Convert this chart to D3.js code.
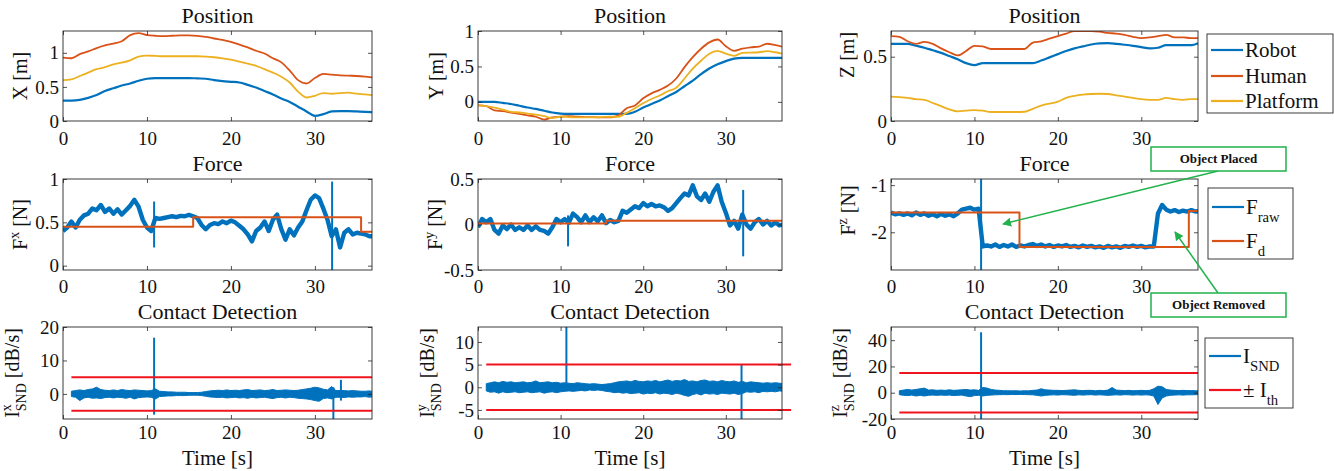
<!DOCTYPE html>
<html>
<head>
<meta charset="utf-8">
<script src="https://cdn.jsdelivr.net/npm/d3@7"></script>
<style>
  body { margin: 0; background: #fff; }
  svg text { font-family: "Liberation Serif", "Times New Roman", serif; }
</style>
</head>
<body>
<div id="chart"></div>
<script>
const width = 1334;
const height = 471;
const FONT = "Liberation Serif, Times New Roman, serif";

// ---------- data ----------
const xTicks = [0, 10, 20, 30];
const xTickLabels = ["0", "10", "20", "30"];
const tMax = 36.8;

// position signals, sampled every second
const posTime = [0,1,2,3,4,5,6,7,8,9,10,11,12,13,14,15,16,17,18,19,20,21,22,23,24,25,26,27,28,29,30,31,32,33,34,35,36,36.8];

const robotX = [0.30,0.30,0.31,0.34,0.38,0.44,0.48,0.52,0.55,0.59,0.62,0.63,0.63,0.63,0.63,0.63,0.625,0.62,0.60,0.585,0.575,0.565,0.53,0.49,0.44,0.39,0.33,0.28,0.21,0.14,0.075,0.10,0.14,0.145,0.145,0.14,0.135,0.13];
const humanX = [0.93,0.92,0.98,1.02,1.07,1.11,1.135,1.17,1.26,1.29,1.26,1.25,1.245,1.25,1.255,1.255,1.25,1.235,1.21,1.19,1.16,1.12,1.08,1.03,0.99,0.92,0.86,0.74,0.60,0.55,0.63,0.69,0.68,0.67,0.665,0.66,0.65,0.64];
const platformX = [0.60,0.61,0.66,0.71,0.76,0.79,0.83,0.855,0.89,0.945,0.96,0.955,0.95,0.95,0.95,0.95,0.95,0.945,0.935,0.92,0.90,0.87,0.84,0.81,0.76,0.71,0.65,0.565,0.43,0.345,0.37,0.41,0.40,0.41,0.415,0.40,0.39,0.38];

const robotY = [0,0,0,-0.015,-0.03,-0.055,-0.08,-0.10,-0.125,-0.15,-0.165,-0.17,-0.17,-0.17,-0.17,-0.17,-0.17,-0.17,-0.17,-0.14,-0.08,-0.03,0.02,0.08,0.14,0.22,0.30,0.39,0.47,0.53,0.575,0.61,0.62,0.62,0.62,0.62,0.62,0.62];
const humanY = [-0.05,-0.06,-0.12,-0.13,-0.15,-0.17,-0.19,-0.21,-0.25,-0.22,-0.21,-0.20,-0.21,-0.215,-0.215,-0.22,-0.22,-0.19,-0.09,-0.05,0.05,0.12,0.17,0.23,0.33,0.49,0.63,0.75,0.84,0.88,0.785,0.72,0.75,0.77,0.78,0.82,0.80,0.78];
const platformY = [-0.05,-0.06,-0.08,-0.11,-0.14,-0.15,-0.165,-0.18,-0.20,-0.23,-0.21,-0.215,-0.22,-0.22,-0.22,-0.215,-0.21,-0.21,-0.155,-0.09,-0.02,0.04,0.09,0.15,0.20,0.33,0.47,0.58,0.68,0.72,0.68,0.65,0.69,0.695,0.70,0.715,0.70,0.68];

const robotZ = [0.60,0.60,0.60,0.585,0.57,0.55,0.53,0.505,0.48,0.45,0.435,0.45,0.45,0.45,0.45,0.45,0.45,0.45,0.47,0.495,0.52,0.545,0.565,0.58,0.595,0.603,0.605,0.60,0.593,0.585,0.575,0.565,0.57,0.59,0.59,0.59,0.59,0.605];
const humanZ = [0.66,0.655,0.62,0.60,0.615,0.60,0.565,0.535,0.51,0.545,0.585,0.58,0.56,0.56,0.56,0.56,0.56,0.61,0.62,0.64,0.66,0.68,0.70,0.70,0.70,0.695,0.685,0.68,0.67,0.655,0.645,0.65,0.66,0.67,0.65,0.65,0.645,0.645];
const platformZ = [0.19,0.185,0.18,0.17,0.165,0.14,0.115,0.09,0.075,0.08,0.085,0.08,0.07,0.07,0.07,0.07,0.072,0.095,0.12,0.135,0.15,0.18,0.195,0.205,0.21,0.212,0.21,0.20,0.19,0.18,0.17,0.165,0.165,0.18,0.17,0.165,0.17,0.17];

// force signals, sampled every 0.5 s from 0 to 37
const forceTime = d3.range(0, 37.01, 0.5);
const forceXRaw = [0.40,0.44,0.51,0.44,0.53,0.58,0.60,0.66,0.64,0.70,0.62,0.66,0.60,0.65,0.59,0.64,0.69,0.76,0.68,0.53,0.44,0.40,0.55,0.54,0.55,0.56,0.57,0.56,0.575,0.57,0.585,0.57,0.55,0.47,0.42,0.47,0.49,0.48,0.51,0.49,0.52,0.50,0.46,0.42,0.36,0.28,0.40,0.44,0.51,0.40,0.53,0.59,0.42,0.30,0.42,0.35,0.44,0.51,0.64,0.76,0.81,0.78,0.66,0.53,0.34,0.42,0.21,0.38,0.42,0.36,0.38,0.37,0.36,0.34,0.34];
const forceYRaw = [-0.03,0.06,0.025,0.06,-0.06,-0.10,-0.01,-0.05,0.0,-0.06,-0.03,-0.06,-0.01,-0.06,-0.02,-0.06,-0.07,-0.10,-0.03,0.06,0.025,0.06,0.02,0.12,0.08,0.025,0.10,0.025,0.08,0.035,0.10,0.015,0.05,0.025,0.04,0.15,0.13,0.165,0.20,0.18,0.235,0.20,0.225,0.20,0.21,0.19,0.15,0.18,0.235,0.29,0.34,0.32,0.43,0.31,0.27,0.34,0.25,0.36,0.43,0.25,0.13,-0.01,0.04,-0.045,0.11,0.0,-0.045,0.025,0.06,0.0,0.04,-0.01,0.025,-0.01,0.0];
const forceZRaw = [-1.58,-1.62,-1.60,-1.63,-1.60,-1.64,-1.58,-1.63,-1.60,-1.65,-1.62,-1.66,-1.61,-1.65,-1.62,-1.66,-1.60,-1.52,-1.50,-1.48,-1.52,-1.50,-2.30,-2.28,-2.30,-2.26,-2.31,-2.27,-2.30,-2.26,-2.31,-2.28,-2.30,-2.27,-2.25,-2.29,-2.26,-2.30,-2.27,-2.31,-2.28,-2.30,-2.27,-2.31,-2.29,-2.32,-2.28,-2.31,-2.29,-2.32,-2.30,-2.33,-2.29,-2.32,-2.30,-2.33,-2.29,-2.31,-2.28,-2.31,-2.29,-2.32,-2.30,-2.30,-1.60,-1.42,-1.52,-1.56,-1.53,-1.57,-1.54,-1.56,-1.53,-1.56,-1.55];
// spikes: [time, low, high]
const forceXSpikes = [[10.85, 0.21, 0.74], [32.05, -0.05, 0.97]];
const forceYSpikes = [[10.9, -0.24, 0.10], [32.1, -0.35, 0.38]];
const forceZSpikes = [[10.8, -2.85, -0.85]];
// desired force (step signal): change times and values
const fdXTime = [0, 15.5, 35.5, 36.8];
const fdXValue = [0.45, 0.56, 0.39, 0.39];
const fdYTime = [0, 15.5, 36.8];
const fdYValue = [0.01, 0.04, 0.04];
const fdZTime = [0, 15.4, 35.7, 36.8];
const fdZValue = [-1.58, -2.31, -1.55, -1.55];

// sound intensity noise band (upper / lower edge), every 0.5 s from 1 to 37
const soundTime = d3.range(1, 37.01, 0.5);
const soundXHi = [0.8,1.0,1.2,1.0,1.3,1.5,2.0,1.3,1.1,1.0, 1.2,1.0,1.3,1.1,1.0,1.2,1.1,1.0,0.9,1.0, 1.5,0.8,0.7,0.6,0.6,0.5,0.5,0.5,0.4,0.4, 0.4,0.5,0.7,0.9,1.0,1.1,1.0,1.2,1.0,1.1, 1.0,1.2,1.3,1.0,1.1,1.2,1.0,1.1,1.3,1.0, 1.1,1.2,1.1,1.0,1.1,1.3,1.5,1.7,2.0,1.8, 1.4,1.2,2.2,1.0,1.0,1.0,0.9,1.0,0.9,0.8, 0.8,0.9,0.7];
const soundXLo = [-0.8,-1.0,-2.0,-1.2,-1.0,-1.3,-1.2,-1.4,-1.1,-1.0, -1.2,-1.0,-1.1,-1.3,-1.0,-1.5,-1.1,-1.0,-0.9,-1.0, -1.5,-0.8,-0.7,-0.6,-0.6,-0.5,-0.5,-0.5,-0.4,-0.4, -0.4,-0.5,-0.7,-0.9,-1.0,-1.1,-1.0,-1.2,-1.1,-1.0, -1.2,-1.1,-1.3,-1.0,-1.2,-1.1,-1.0,-1.2,-1.4,-1.1, -1.0,-1.2,-1.0,-1.1,-1.3,-1.4,-1.5,-1.7,-2.0,-2.2, -1.4,-1.2,-1.5,-1.0,-1.0,-1.1,-0.9,-1.0,-0.9,-0.9, -0.8,-1.0,-0.8];
const soundYHi = [0.8,1.0,1.2,1.0,1.3,1.1,1.2,1.0,1.1,1.2, 1.0,1.1,1.4,1.0,1.1,1.2,1.0,1.1,0.9,1.0, 0.9,0.8,1.0,0.9,0.8,0.7,0.8,0.7,0.6,0.7, 0.8,1.0,1.2,1.3,1.4,1.2,1.5,1.3,1.2,1.4, 1.3,1.5,1.2,1.4,1.6,1.3,1.5,1.4,1.7,1.3, 1.4,1.2,1.5,1.6,1.3,1.4,1.2,1.5,1.3,1.2, 1.4,1.1,1.3,1.0,1.2,1.1,1.0,0.9,1.0,0.9, 1.0,0.9,0.8];
const soundYLo = [-0.8,-1.1,-1.0,-1.3,-1.0,-1.2,-1.1,-1.0,-1.2,-1.1, -1.0,-1.2,-1.1,-1.0,-1.3,-1.1,-1.0,-1.2,-1.0,-0.9, -0.8,-0.9,-0.8,-0.7,-0.8,-0.6,-0.7,-0.6,-0.7,-0.9, -1.0,-1.2,-1.1,-1.3,-1.2,-1.4,-1.3,-1.2,-1.5,-1.3, -1.4,-1.2,-1.5,-1.3,-1.4,-1.6,-1.3,-1.5,-1.8,-2.0, -1.6,-1.4,-1.7,-1.3,-1.5,-1.4,-1.6,-1.3,-1.4,-1.5, -1.3,-1.6,-1.4,-1.0,-1.1,-1.0,-1.2,-0.9,-1.0,-0.9, -1.0,-0.8,-0.9];
const soundZHi = [1.5,2.0,2.5,2.0,2.5,3.0,3.5,2.0,2.2,1.8, 2.0,1.8,2.2,1.8,2.0,2.2,2.5,2.0,2.2,1.8, 4.0,3.5,2.5,2.0,1.8,1.5,1.5,1.4,1.5,1.3, 1.5,1.4,1.8,2.0,3.0,2.2,2.0,1.8,1.8,1.6, 1.8,2.0,2.2,1.8,1.6,1.8,1.8,1.5,1.8,1.6, 2.0,4.0,2.0,1.8,1.6,1.8,1.5,1.6,1.8,1.6, 1.8,3.0,5.0,4.5,2.5,2.0,1.8,1.6,1.8,1.6, 1.6,1.5,1.5];
const soundZLo = [-1.5,-2.0,-2.2,-1.8,-2.5,-2.0,-2.5,-2.0,-1.8,-2.0, -1.8,-2.0,-1.8,-2.2,-2.0,-1.8,-2.5,-3.0,-2.2,-2.0, -2.5,-2.0,-1.8,-1.6,-1.5,-1.4,-1.5,-1.3,-1.4,-1.3, -1.4,-1.5,-1.6,-2.0,-2.5,-2.0,-1.8,-1.6,-1.8,-1.5, -1.6,-1.8,-2.0,-1.6,-1.8,-1.6,-1.5,-1.8,-1.6,-1.8, -2.0,-1.8,-1.6,-1.8,-1.5,-1.6,-1.8,-1.6,-1.8,-1.6, -1.8,-2.5,-9.0,-4.0,-2.5,-2.0,-1.8,-1.6,-1.8,-1.6, -1.6,-1.5,-1.5];
const soundXSpikes = [[10.85, -6.2, 16.8], [32.2, -8.0, 2.0], [33.1, -2.0, 4.2]];
const soundYSpikes = [[10.7, 0, 13.3], [31.9, -7.0, 5.0]];
const soundZSpikes = [[10.8, -20, 46]];
// thresholds
const thX = 5, thY = 5, thZ = 15;
const thStart = 1;

const seriesNames = ["Robot", "Human", "Platform"];
const colors = { blue: "#0072BD", orange: "#D95319", yellow: "#EDB120", red: "#F0141E", green: "#21B24C", axis: "#262626", text: "#111" };

// ---------- layout ----------
const cols = [{ l: 63, r: 372 }, { l: 478, r: 782 }, { l: 891, r: 1198 }];
const rows = [{ t: 31, b: 121, pad: 11 }, { t: 179, b: 270, pad: 10 }, { t: 327, b: 419, pad: 7 }];

const svg = d3.select("#chart").append("svg")
  .attr("width", width)
  .attr("height", height)
  .style("background", "#fff");

const defs = svg.append("defs");
defs.append("marker")
  .attr("id", "arrow")
  .attr("viewBox", "0 0 10 10")
  .attr("refX", 9).attr("refY", 5)
  .attr("markerWidth", 9).attr("markerHeight", 9)
  .attr("markerUnits", "userSpaceOnUse")
  .attr("orient", "auto")
  .append("path")
  .attr("d", "M0,0 L10,5 L0,10 z")
  .attr("fill", colors.green);

let clipId = 0;

// rich text: parts like ["F","n"], ["x","sup"], ["SND","sub"] (sub is stacked under a preceding sup)
function richText(parent, parts, size) {
  const g = parent.append("g");
  let x = 0;
  let supStart = null;
  parts.forEach(([txt, kind]) => {
    const el = g.append("text")
      .attr("font-family", FONT)
      .attr("fill", colors.text)
      .attr("font-size", kind === "n" ? size : size * 0.7)
      .text(txt);
    if (kind === "n") {
      el.attr("x", x).attr("y", 0);
      x += el.node().getComputedTextLength();
      supStart = null;
    } else if (kind === "sup") {
      el.attr("x", x).attr("y", -size * 0.4);
      supStart = x;
      x += el.node().getComputedTextLength();
    } else {
      const sx = supStart !== null ? supStart : x;
      el.attr("x", sx).attr("y", size * 0.36);
      x = Math.max(x, sx + el.node().getComputedTextLength());
      supStart = null;
    }
  });
  return { g, w: x };
}

function makePanel(p) {
  const { l, r } = cols[p.col];
  const { t, b, pad } = rows[p.row];
  const x = d3.scaleLinear().domain([0, tMax]).range([l, r]);
  const y = d3.scaleLinear().domain(p.yDomain).range([b, t]);
  const g = svg.append("g");

  clipId += 1;
  defs.append("clipPath").attr("id", "clip" + clipId)
    .append("rect").attr("x", l).attr("y", t).attr("width", r - l).attr("height", b - t);

  const plot = g.append("g").attr("clip-path", "url(#clip" + clipId + ")");
  const free = g.append("g");

  // title
  g.append("text")
    .attr("x", (l + r) / 2).attr("y", t - 8)
    .attr("text-anchor", "middle")
    .attr("font-family", FONT)
    .attr("font-size", 22)
    .attr("fill", colors.text)
    .text(p.title);

  // axes with inward ticks on all four sides
  const xb = g.append("g").attr("transform", `translate(0,${b})`)
    .call(d3.axisBottom(x).tickValues(xTicks).tickFormat((d, i) => xTickLabels[i]).tickSize(-4).tickPadding(pad));
  const xt = g.append("g").attr("transform", `translate(0,${t})`)
    .call(d3.axisTop(x).tickValues(xTicks).tickFormat("").tickSize(-4));
  const yl = g.append("g").attr("transform", `translate(${l},0)`)
    .call(d3.axisLeft(y).tickValues(p.yTicks).tickFormat((d, i) => p.yTickLabels[i]).tickSize(-4).tickPadding(4));
  const yr = g.append("g").attr("transform", `translate(${r},0)`)
    .call(d3.axisRight(y).tickValues(p.yTicks).tickFormat("").tickSize(-4));
  [xb, xt, yl, yr].forEach(a => {
    a.attr("color", colors.axis).attr("font-family", FONT).attr("font-size", 19);
    a.select(".domain").remove();
    a.selectAll(".tick line").attr("stroke-width", 0.8);
    a.selectAll("text").attr("fill", colors.text);
  });

  // y label
  const lab = richText(g, p.yLabel, 20);
  const cy = (t + b) / 2 + (p.yLabelShift || 0);
  lab.g.attr("transform", `translate(${l - p.yLabelGap},${cy + lab.w / 2}) rotate(-90)`);

  if (p.xLabel) {
    g.append("text")
      .attr("x", (l + r) / 2).attr("y", 465)
      .attr("text-anchor", "middle")
      .attr("font-family", FONT)
      .attr("font-size", 21)
      .attr("fill", colors.text)
      .text(p.xLabel);
  }

  const line = d3.line().x(d => x(d[0])).y(d => y(d[1]));

  (p.thresholds || []).forEach(th => {
    [th.v, -th.v].forEach(v => {
      free.append("path")
        .attr("d", line([[thStart, v], [th.end, v]]))
        .attr("stroke", colors.red).attr("stroke-width", 2).attr("fill", "none");
    });
  });

  (p.bands || []).forEach(s => {
    const area = d3.area().x(d => x(d[0])).y0(d => y(d[1])).y1(d => y(d[2]));
    plot.append("path")
      .attr("d", area(d3.zip(s.time, s.lo, s.hi)))
      .attr("fill", s.color)
      .attr("stroke", s.color)
      .attr("stroke-width", 1);
    (s.spikes || []).forEach(sp => {
      plot.append("line")
        .attr("x1", x(sp[0])).attr("x2", x(sp[0]))
        .attr("y1", y(sp[1])).attr("y2", y(sp[2]))
        .attr("stroke", s.color).attr("stroke-width", 2);
    });
  });

  (p.series || []).forEach(s => {
    const pts = d3.zip(s.time, s.values);
    const ln = s.step ? d3.line().curve(d3.curveStepAfter).x(d => x(d[0])).y(d => y(d[1]))
      : s.smooth ? d3.line().curve(d3.curveMonotoneX).x(d => x(d[0])).y(d => y(d[1])) : line;
    plot.append("path")
      .attr("d", ln(pts))
      .attr("fill", "none")
      .attr("stroke", s.color)
      .attr("stroke-width", s.width)
      .attr("stroke-linejoin", "round");
    (s.spikes || []).forEach(sp => {
      plot.append("line")
        .attr("x1", x(sp[0])).attr("x2", x(sp[0]))
        .attr("y1", y(sp[1])).attr("y2", y(sp[2]))
        .attr("stroke", s.color).attr("stroke-width", 2);
    });
  });

  // box
  g.append("rect")
    .attr("x", l).attr("y", t).attr("width", r - l).attr("height", b - t)
    .attr("fill", "none").attr("stroke", colors.axis).attr("stroke-width", 0.9);

  return { x, y };
}

function posSeries(a, bb, c) {
  return [
    { time: posTime, values: a, color: colors.blue, width: 2.2, smooth: true },
    { time: posTime, values: bb, color: colors.orange, width: 1.8, smooth: true },
    { time: posTime, values: c, color: colors.yellow, width: 1.8, smooth: true }
  ];
}

// row 1: position
makePanel({ col: 0, row: 0, title: "Position", yDomain: [0, 1.32], yTicks: [0, 0.5, 1], yTickLabels: ["0", "0.5", "1"],
  yLabel: [["X [m]", "n"]], yLabelGap: 36, series: posSeries(robotX, humanX, platformX) });
makePanel({ col: 1, row: 0, title: "Position", yDomain: [-0.27, 1], yTicks: [0, 0.5, 1], yTickLabels: ["0", "0.5", "1"],
  yLabel: [["Y [m]", "n"]], yLabelGap: 35, series: posSeries(robotY, humanY, platformY) });
makePanel({ col: 2, row: 0, title: "Position", yDomain: [0, 0.7], yTicks: [0, 0.5], yTickLabels: ["0", "0.5"],
  yLabel: [["Z [m]", "n"]], yLabelGap: 37, yLabelShift: -21, series: posSeries(robotZ, humanZ, platformZ) });

// row 2: force
makePanel({ col: 0, row: 1, title: "Force", yDomain: [-0.05, 1], yTicks: [0, 0.5, 1], yTickLabels: ["0", "0.5", "1"],
  yLabel: [["F", "n"], ["x", "sup"], ["\u00a0[N]", "n"]], yLabelGap: 36,
  series: [
    { time: forceTime, values: forceXRaw, color: colors.blue, width: 4.4, spikes: forceXSpikes },
    { time: fdXTime, values: fdXValue, color: colors.orange, width: 2, step: true }
  ] });
makePanel({ col: 1, row: 1, title: "Force", yDomain: [-0.5, 0.5], yTicks: [-0.5, 0, 0.5], yTickLabels: ["-0.5", "0", "0.5"],
  yLabel: [["F", "n"], ["y", "sup"], ["\u00a0[N]", "n"]], yLabelGap: 36,
  series: [
    { time: forceTime, values: forceYRaw, color: colors.blue, width: 4.4, spikes: forceYSpikes },
    { time: fdYTime, values: fdYValue, color: colors.orange, width: 2, step: true }
  ] });
makePanel({ col: 2, row: 1, title: "Force", yDomain: [-2.8, -0.87], yTicks: [-2, -1], yTickLabels: ["-2", "-1"],
  yLabel: [["F", "n"], ["z", "sup"], ["\u00a0[N]", "n"]], yLabelGap: 36, yLabelShift: -14,
  series: [
    { time: forceTime, values: forceZRaw, color: colors.blue, width: 4.4, spikes: forceZSpikes },
    { time: fdZTime, values: fdZValue, color: colors.orange, width: 2, step: true }
  ] });

// row 3: contact detection
const dbLabel = (axis) => [["I", "n"], [axis, "sup"], ["SND", "sub"], ["\u00a0[dB/s]", "n"]];
makePanel({ col: 0, row: 2, title: "Contact Detection", yDomain: [-7.5, 20], yTicks: [0, 10, 20], yTickLabels: ["0", "10", "20"],
  yLabel: dbLabel("x"), yLabelGap: 44, xLabel: "Time [s]", thresholds: [{ v: thX, end: tMax }],
  bands: [{ time: soundTime, lo: soundXLo, hi: soundXHi, color: colors.blue, spikes: soundXSpikes }] });
makePanel({ col: 1, row: 2, title: "Contact Detection", yDomain: [-7, 13.3], yTicks: [-5, 0, 5, 10], yTickLabels: ["-5", "0", "5", "10"],
  yLabel: dbLabel("y"), yLabelGap: 44, xLabel: "Time [s]", thresholds: [{ v: thY, end: 37.9 }],
  bands: [{ time: soundTime, lo: soundYLo, hi: soundYHi, color: colors.blue, spikes: soundYSpikes }] });
makePanel({ col: 2, row: 2, title: "Contact Detection", yDomain: [-20, 50], yTicks: [-20, 0, 20, 40], yTickLabels: ["-20", "0", "20", "40"],
  yLabel: dbLabel("z"), yLabelGap: 44, xLabel: "Time [s]", thresholds: [{ v: thZ, end: tMax }],
  bands: [{ time: soundTime, lo: soundZLo, hi: soundZHi, color: colors.blue, spikes: soundZSpikes }] });

// ---------- legends ----------
function legend(box, items) {
  const g = svg.append("g");
  g.append("rect")
    .attr("x", box.x).attr("y", box.y).attr("width", box.w).attr("height", box.h)
    .attr("fill", "#fff").attr("stroke", colors.axis).attr("stroke-width", 0.9);
  items.forEach(it => {
    g.append("line")
      .attr("x1", box.x + 4).attr("x2", box.x + 36)
      .attr("y1", it.y).attr("y2", it.y)
      .attr("stroke", it.color).attr("stroke-width", 2.2);
    const rt = richText(g, it.label, 21);
    rt.g.attr("transform", `translate(${box.x + 38},${it.y + 7})`);
  });
}

legend({ x: 1207, y: 34, w: 126, h: 79 }, [
  { y: 50, color: colors.blue, label: [[seriesNames[0], "n"]] },
  { y: 76, color: colors.orange, label: [[seriesNames[1], "n"]] },
  { y: 101, color: colors.yellow, label: [[seriesNames[2], "n"]] }
]);
legend({ x: 1208, y: 188, w: 85, h: 71 }, [
  { y: 207, color: colors.blue, label: [["F", "n"], ["raw", "sub"]] },
  { y: 241, color: colors.orange, label: [["F", "n"], ["d", "sub"]] }
]);
legend({ x: 1205, y: 338, w: 88, h: 70 }, [
  { y: 356, color: colors.blue, label: [["I", "n"], ["SND", "sub"]] },
  { y: 390, color: colors.red, label: [["\u00b1\u00a0I", "n"], ["th", "sub"]] }
]);

// ---------- annotations ----------
const notes = [
  { text: "Object Placed", y: 147, from: [1218, 171], to: [1003, 224] },
  { text: "Object Removed", y: 293, from: [1218, 293], to: [1175, 232] }
];
notes.forEach(n => {
  svg.append("line")
    .attr("x1", n.from[0]).attr("y1", n.from[1])
    .attr("x2", n.to[0]).attr("y2", n.to[1])
    .attr("stroke", colors.green).attr("stroke-width", 1.5)
    .attr("marker-end", "url(#arrow)");
  svg.append("rect")
    .attr("x", 1151).attr("y", n.y).attr("width", 135).attr("height", 24)
    .attr("fill", "#fff").attr("stroke", colors.green).attr("stroke-width", 1.5);
  svg.append("text")
    .attr("x", 1218.5).attr("y", n.y + 16)
    .attr("text-anchor", "middle")
    .attr("font-family", FONT)
    .attr("font-weight", "bold")
    .attr("font-size", 13)
    .attr("fill", colors.text)
    .text(n.text);
});
</script>
</body>
</html>
